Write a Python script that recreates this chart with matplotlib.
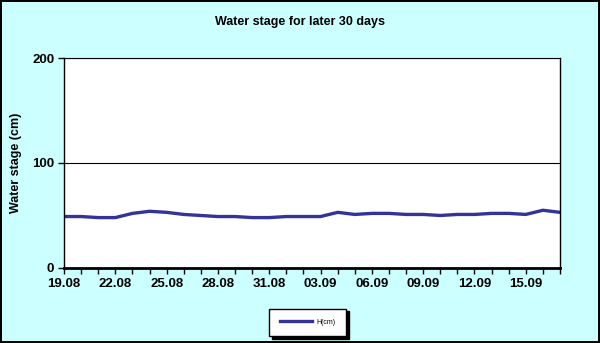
import matplotlib
matplotlib.use("Agg")
import matplotlib.pyplot as plt

# daily dates, 19.08 .. 17.09
dates = ["19.08", "20.08", "21.08", "22.08", "23.08", "24.08", "25.08", "26.08",
         "27.08", "28.08", "29.08", "30.08", "31.08", "01.09", "02.09", "03.09",
         "04.09", "05.09", "06.09", "07.09", "08.09", "09.09", "10.09", "11.09",
         "12.09", "13.09", "14.09", "15.09", "16.09", "17.09"]
h_cm = [49, 49, 48, 48, 52, 54, 53, 51, 50, 49, 49, 48, 48, 49, 49, 49,
        53, 51, 52, 52, 51, 51, 50, 51, 51, 52, 52, 51, 55, 53]

plt.rcParams['font.family'] = ['Liberation Sans', 'DejaVu Sans']
plt.rcParams['font.weight'] = 'bold'

fig = plt.figure(figsize=(6.0, 3.43), dpi=100)
fig.patch.set_facecolor('#CCFFFF')
fig.patch.set_edgecolor('black')
fig.patch.set_linewidth(1.5)

ax = fig.add_axes([0.1067, 0.2187, 0.8266, 0.6122])
ax.set_facecolor('white')

x = list(range(len(dates)))
ax.plot(x, h_cm, color='#333399', lw=2.4, label='H(cm)',
        solid_joinstyle='round')

ax.set_xlim(0, len(dates) - 1)
ax.set_ylim(0, 200)
ax.set_yticks([0, 100, 200])
ax.set_xticks(x)
ax.set_xticklabels([d if i % 3 == 0 else '' for i, d in enumerate(dates)])
ax.tick_params(axis='x', direction='out', length=4, width=1, color='black',
               labelsize=9.5, pad=3)
ax.tick_params(axis='y', direction='out', length=4, width=1, color='black',
               labelsize=9.5, pad=3)
for lab in ax.get_xticklabels() + ax.get_yticklabels():
    lab.set_fontweight('bold')

ax.grid(axis='y', color='black', lw=0.8)
ax.set_axisbelow(True)
ax.spines['bottom'].set_linewidth(2)
ax.spines['left'].set_linewidth(1)
ax.spines['right'].set_linewidth(1)
ax.spines['top'].set_linewidth(0.8)

ax.set_ylabel('Water stage (cm)', fontsize=9, fontweight='bold', labelpad=7)
fig.text(0.5, 0.935, 'Water stage for later 30 days', ha='center', va='center',
         fontsize=9, fontweight='bold')

leg = fig.legend(loc='center', bbox_to_anchor=(0.513, 0.06), fontsize=5,
                 frameon=True, fancybox=False, handlelength=4.6,
                 borderpad=1.5, handletextpad=0.7, borderaxespad=0,
                 shadow={'color': 'black', 'alpha': 1.0})
leg.get_frame().set_edgecolor('black')
leg.get_frame().set_linewidth(1)
leg.get_frame().set_facecolor('white')
leg.get_frame().set_alpha(1)
for t in leg.get_texts():
    t.set_fontweight('normal')

fig.savefig('out.png', dpi=100, facecolor=fig.get_facecolor(),
            edgecolor=fig.get_edgecolor())
